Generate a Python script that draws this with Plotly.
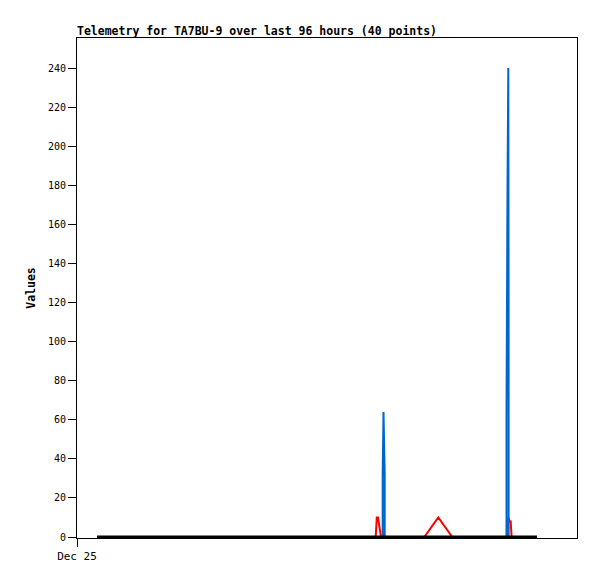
import pandas as pd
import plotly.graph_objects as go

START = pd.Timestamp("2023-12-25 00:00")

# hours after Dec 25 00:00
black_hours = [3.84, 20.0, 40.0, 57.0, 66.5, 82.3, 88.32]
black_vals = [0, 0, 0, 0, 0, 0, 0]

red_hours = [3.84, 57.35, 57.56, 57.79, 58.37, 66.68, 69.37, 72.06,
             82.75, 82.81, 83.10, 83.27, 83.37, 83.46, 88.32]
red_vals = [0, 0, 10, 10, 0, 0, 10, 0,
            0, 10, 8, 8, 3, 0, 0]

blue_hours = [3.84, 58.69, 58.69, 58.85, 59.08, 59.08,
              82.46, 82.46, 82.66, 82.81, 82.87, 82.87, 88.32]
blue_vals = [0, 0, 32, 64, 32, 0,
             0, 60, 180, 240, 120, 0, 0]

y_ticks = list(range(0, 241, 20))


def to_time(hours):
    return START + pd.to_timedelta(hours, unit="h")


fig = go.Figure()
fig.add_trace(go.Scatter(x=to_time(red_hours), y=red_vals, mode="lines",
                         line=dict(color="#ff0000", width=2), name="red"))
fig.add_trace(go.Scatter(x=to_time(blue_hours), y=blue_vals, mode="lines",
                         line=dict(color="#0066cc", width=2), name="blue"))
fig.add_trace(go.Scatter(x=to_time(black_hours), y=black_vals, mode="lines",
                         line=dict(color="#000000", width=3), name="black"))

mono = "DejaVu Sans Mono"
# page body has an 8px margin, so the figure is a bit smaller and shifted
fig.update_layout(
    width=589, height=571,
    margin=dict(l=69, r=20, t=30, b=41),
    paper_bgcolor="white", plot_bgcolor="white",
    showlegend=False,
    font=dict(family=mono, size=11, color="black"),
    title=dict(text="<b>Telemetry for TA7BU-9 over last 96 hours (40 points)</b>",
               x=69 / 589, xanchor="left", xref="container",
               y=1 - 19 / 571, yanchor="top", yref="container",
               font=dict(family=mono, size=11.5, color="black")),
)
fig.update_xaxes(
    range=[START, to_time(96)],
    tickvals=[START], ticktext=["Dec 25"],
    showgrid=False, zeroline=False,
    showline=True, linecolor="black", linewidth=1, mirror=True,
    ticks="outside", ticklen=8, tickcolor="black",
    tickfont=dict(family=mono, size=11),
)
fig.update_yaxes(
    range=[-0.5, 255.4],
    tickvals=y_ticks,
    showgrid=False, zeroline=False,
    showline=True, linecolor="black", linewidth=1, mirror=True,
    ticks="outside", ticklen=8, tickcolor="black",
    tickfont=dict(family=mono, size=10),
    title=dict(text="<b>Values</b>", standoff=9,
               font=dict(family=mono, size=11.5)),
)

fig.write_html("out.html")
